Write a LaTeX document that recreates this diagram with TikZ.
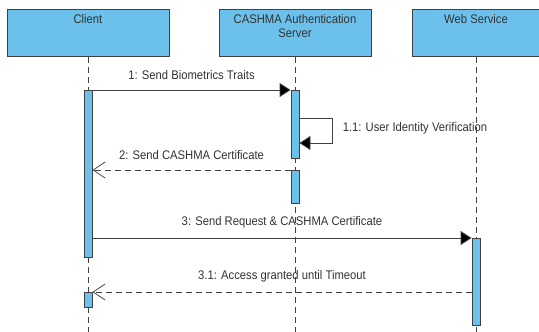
\documentclass[tikz,border=0pt]{standalone}
\usepackage{fontspec}
\setmainfont[FakeStretch=0.9]{Liberation Sans}
\usetikzlibrary{arrows.meta}
\definecolor{barblue}{RGB}{108,193,236}
\definecolor{edgegray}{RGB}{65,65,65}
\definecolor{textgray}{RGB}{50,50,50}
\tikzset{
    objbox/.style={draw=edgegray, fill=barblue, line width=1pt, minimum height=47pt, inner sep=0pt, anchor=north},
    objtext/.style={anchor=north, inner sep=0pt, yshift=-5pt, text=textgray, align=center, font=\fontsize{12.5}{14}\selectfont},
    lifeline/.style={edgegray, line width=0.8pt, dash pattern=on 6pt off 4pt},
    actbar/.style={draw=edgegray, fill=barblue, line width=0.8pt, minimum width=8pt, inner sep=0pt, anchor=north},
    syncmsg/.style={edgegray, line width=0.8pt, -{Triangle[length=11pt, width=14pt, fill=black]}},
    retmsg/.style={edgegray, line width=0.8pt, dash pattern=on 6pt off 4pt, -{Straight Barb[length=12pt, width=16pt, line width=0.8pt]}},
    msglabel/.style={text=textgray, font=\fontsize{12.5}{14}\selectfont, inner sep=0pt}
}
\begin{document}
\begin{tikzpicture}[x=1pt, y=-1pt]
    \useasboundingbox (0,0) rectangle (539,332);
    \coordinate (bottom) at (0,332);
    % lifeline heads
    \node[objbox, minimum width=162pt] (client) at (88,9) {};
    \node[objbox, minimum width=152pt] (server) at (295,9) {};
    \node[objbox, minimum width=128pt] (web) at (476,9) {};
    \node[objtext] at (client.north) {Client};
    \node[objtext] at (server.north) {CASHMA Authentication\\Server};
    \node[objtext] at (web.north) {Web Service};
    \draw[lifeline] (client.south) -- (client.south |- bottom);
    \draw[lifeline] (server.south) -- (server.south |- bottom);
    \draw[lifeline] (web.south) -- (web.south |- bottom);
    % activations
    \node[actbar, minimum height=167pt] (cact1) at (88,90) {};
    \node[actbar, minimum height=15pt] (cact2) at (88,292) {};
    \node[actbar, minimum height=68pt] (sact1) at (295,90) {};
    \node[actbar, minimum height=33pt] (sact2) at (295,170) {};
    \node[actbar, minimum height=87pt] (wact) at (476,238) {};
    % messages
    \draw[syncmsg] (cact1.north east) -- (sact1.north west)
        node[msglabel, midway, above=10pt] {1: Send Biometrics Traits};
    \draw[syncmsg] ([yshift=-28pt]sact1.north east) -- ++(33,0) -- ++(0,25)
        node[msglabel, midway, right=10pt, yshift=2pt] {1.1: User Identity Verification}
        -- ([yshift=-53pt]sact1.north east);
    \draw[retmsg] (sact2.north west) -- (cact1.east |- sact2.north)
        node[msglabel, midway, above=10pt] {2: Send CASHMA Certificate};
    \draw[syncmsg] (cact1.east |- wact.north) -- (wact.north west)
        node[msglabel, midway, above=10pt] {3: Send Request \& CASHMA Certificate};
    \draw[retmsg] (wact.west |- cact2.north) -- (cact2.north east)
        node[msglabel, midway, above=10pt] {3.1: Access granted until Timeout};
\end{tikzpicture}
\end{document}
